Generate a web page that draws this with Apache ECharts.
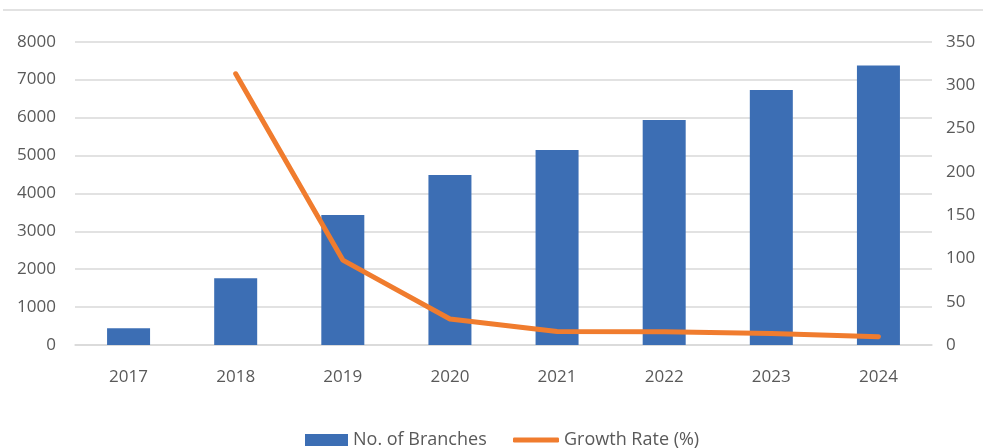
<!DOCTYPE html>
<html>
<head>
<meta charset="utf-8">
<script src="https://cdn.jsdelivr.net/npm/echarts@6/dist/echarts.min.js"></script>
<style>
  html, body { margin: 0; padding: 0; background: #ffffff; }
  #chart { width: 983px; height: 448px; }
</style>
</head>
<body>
<div id="chart"></div>
<script>
// Branch network growth by year
const years = ['2017', '2018', '2019', '2020', '2021', '2022', '2023', '2024'];
const branches = [440, 1760, 3430, 4485, 5145, 5937, 6728, 7370];
const growthRate = [null, 313, 98, 30, 15.5, 15.4, 13.3, 9.6];

const labelFont = { color: '#595959', fontSize: 17, fontFamily: 'Open Sans' };
const legendText = { color: '#595959', fontSize: 18, fontFamily: 'Open Sans' };

const chart = echarts.init(document.getElementById('chart'), null, { renderer: 'canvas' });
chart.setOption({
  animation: false,
  backgroundColor: '#ffffff',
  graphic: [{
    type: 'line',
    shape: { x1: 3, y1: 10, x2: 983, y2: 10 },
    style: { stroke: '#d9d9d9', lineWidth: 1.5 }
  }],
  grid: { left: 75, right: 51, top: 41.7, bottom: 103, containLabel: false },
  legend: [
    {
      left: 300,
      top: 426,
      itemWidth: 43,
      itemHeight: 12,
      itemGap: 0,
      textStyle: legendText,
      data: [{ name: 'No. of Branches', icon: 'rect' }]
    },
    {
      left: 508,
      top: 426,
      itemWidth: 46,
      itemHeight: 5,
      textStyle: legendText,
      data: [{ name: 'Growth Rate (%)', icon: 'roundRect' }]
    }
  ],
  xAxis: {
    type: 'category',
    data: years,
    axisLine: { show: true, lineStyle: { color: '#d9d9d9', width: 1.5 } },
    axisTick: { show: false },
    axisLabel: Object.assign({ margin: 24 }, labelFont)
  },
  yAxis: [
    {
      type: 'value',
      min: 0, max: 8000, interval: 1000,
      axisLine: { show: false },
      axisTick: { show: false },
      splitLine: { lineStyle: { color: '#d9d9d9', width: 1.5 } },
      axisLabel: Object.assign({ margin: 19, formatter: v => String(v) }, labelFont)
    },
    {
      type: 'value',
      min: 0, max: 350, interval: 50,
      position: 'right',
      axisLine: { show: false },
      axisTick: { show: false },
      splitLine: { show: false },
      axisLabel: Object.assign({ margin: 14 }, labelFont)
    }
  ],
  series: [
    {
      name: 'No. of Branches',
      type: 'bar',
      data: branches,
      barWidth: 43,
      itemStyle: { color: '#3c6eb4' }
    },
    {
      name: 'Growth Rate (%)',
      type: 'line',
      yAxisIndex: 1,
      data: growthRate,
      showSymbol: false,
      symbol: 'none',
      lineStyle: { color: '#f07c2e', width: 5, cap: 'round', join: 'round' },
      itemStyle: { color: '#f07c2e' }
    }
  ]
});
</script>
</body>
</html>
